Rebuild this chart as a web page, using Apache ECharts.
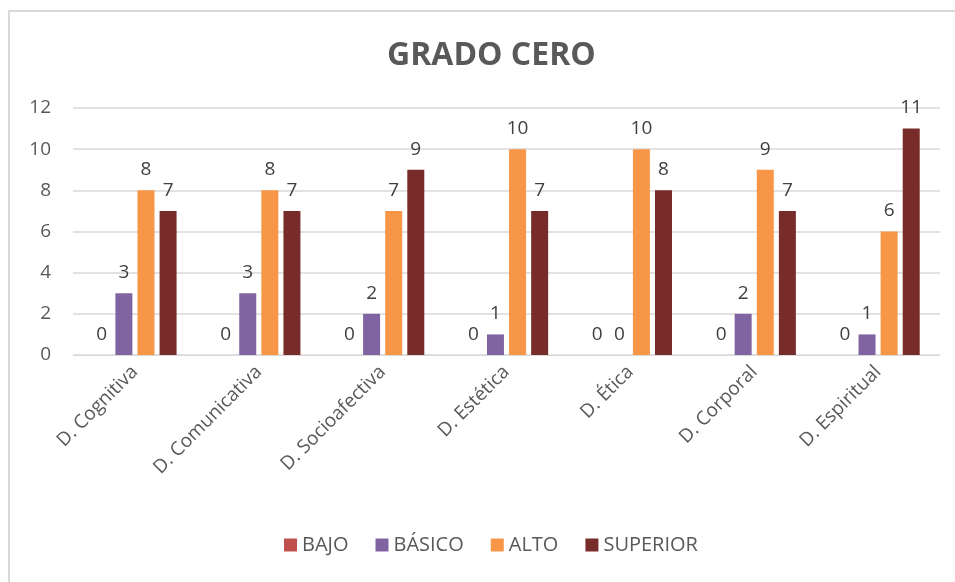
<!DOCTYPE html>
<html><head><meta charset="utf-8">
<script src="https://cdn.jsdelivr.net/npm/echarts@6/dist/echarts.min.js"></script>
<style>html,body{margin:0;padding:0;background:#fff}#c{width:955px;height:582px}</style>
</head><body><div id="c"></div>
<script>
const categories = ['D. Cognitiva','D. Comunicativa','D. Socioafectiva','D. Estética','D. Ética','D. Corporal','D. Espiritual'];
const seriesNames = ['BAJO','BÁSICO','ALTO','SUPERIOR'];
const bajo = [0,0,0,0,0,0,0];
const basico = [3,3,2,1,0,2,1];
const alto = [8,8,7,10,10,9,6];
const superior = [7,7,9,7,8,7,11];
const yTicks = [0,2,4,6,8,10,12];
const colors = ['#C0504D','#8064A2','#F79646','#772C2A'];
const font = '"Open Sans", "Noto Sans", sans-serif';

const chart = echarts.init(document.getElementById('c'));
const mk = (name, data, color) => ({
  name, type: 'bar', data, barWidth: 17,
  itemStyle: { color },
  label: { show: true, position: 'top', distance: 11, color: '#404040', fontSize: 19, fontFamily: font }
});
chart.setOption({
  animation: false,
  textStyle: { fontFamily: font },
  title: { text: 'GRADO CERO', left: 382, top: 35,
    textStyle: { fontSize: 32, fontWeight: 'bold', color: '#595959', fontFamily: font } },
  graphic: [
    { type: 'polyline', shape: { points: [[9, 582], [9, 11], [955, 11]] },
      style: { stroke: '#d9d9d9', lineWidth: 2, fill: null } }
  ],
  legend: { bottom: 22, left: 279, itemWidth: 13, itemHeight: 13, itemGap: 27, icon: 'rect',
    textStyle: { fontSize: 20, color: '#595959', fontFamily: font },
    data: seriesNames },
  grid: { left: 73, right: 15, top: 108, bottom: 227, containLabel: false },
  xAxis: { type: 'category', data: categories,
    axisLine: { lineStyle: { color: '#d9d9d9', width: 1 } }, axisTick: { show: false },
    axisLabel: { rotate: 45, fontSize: 19, color: '#595959', margin: 14, fontFamily: font, interval: 0 } },
  yAxis: { type: 'value', min: 0, max: 12, interval: 2,
    axisLine: { show: false }, axisTick: { show: false },
    splitLine: { lineStyle: { color: '#d9d9d9', width: 1.5 } },
    axisLabel: { fontSize: 19, color: '#595959', margin: 22, fontFamily: font,
      formatter: v => yTicks.includes(v) ? String(v) : '' } },
  series: [
    mk(seriesNames[0], bajo, colors[0]),
    mk(seriesNames[1], basico, colors[1]),
    mk(seriesNames[2], alto, colors[2]),
    mk(seriesNames[3], superior, colors[3])
  ].map(s => Object.assign(s, { barGap: '30%' }))
});
</script></body></html>
